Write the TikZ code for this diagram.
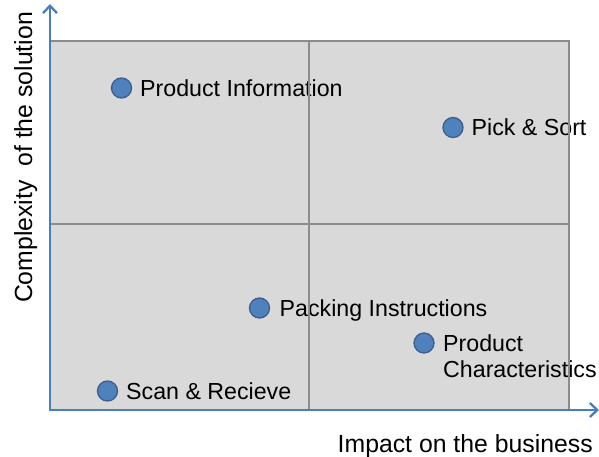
\documentclass[tikz,border=0pt]{standalone}
\usepackage{fontspec}
\setmainfont{Liberation Sans}
\usetikzlibrary{arrows.meta}
\definecolor{axisblue}{HTML}{4A7EBB}
\definecolor{dotfill}{HTML}{4F81BD}
\definecolor{dotedge}{HTML}{3A5F8E}
\definecolor{gridgray}{HTML}{8C8C8C}
\definecolor{quadfill}{HTML}{D9D9D9}
\tikzset{
  dot/.style={circle, fill=dotfill, draw=dotedge, line width=1.3pt, minimum size=20pt, inner sep=0pt},
  lbl/.style={font=\fontsize{23.2}{26}\selectfont, inner sep=0pt, text=black},
  axlbl/.style={font=\fontsize{24.8}{28}\selectfont, inner sep=0pt, text=black},
  gridline/.style={draw=gridgray, line width=2pt},
  axis/.style={draw=axisblue, line width=2.5pt, -{Straight Barb[length=7.5pt,width=14pt,line width=2.3pt]}}
}
\begin{document}
\begin{tikzpicture}[x=1pt,y=-1pt]
\useasboundingbox (0,0) rectangle (599,457);
% quadrant background
\fill[quadfill] (50,41) rectangle (569,410);
% points
\node[dot] (pi) at (121.5,88) {};
\node[lbl, anchor=base west] (pit) at (140,96.5) {Product Information};
\node[dot] (ps) at (453,127.5) {};
\node[lbl, anchor=base west] (pst) at (471.5,136) {Pick \& Sort};
\node[dot] (pk) at (259.5,308) {};
\node[lbl, anchor=base west] (pkt) at (279.5,316.5) {Packing Instructions};
\node[dot] (pc) at (424,343) {};
\node[lbl, anchor=north west, align=left] (pct) at (443,334.5) {Product\\Characteristics};
\node[dot] (sr) at (107.5,391) {};
\node[lbl, anchor=base west] (srt) at (126,399.5) {Scan \& Recieve};
% grid over labels
\draw[gridline] (50,41) rectangle (569,410);
\draw[gridline] (309,41) -- (309,410);
\draw[gridline] (50,224) -- (569,224);
% axes
\coordinate (o) at (50,410);
\coordinate (ytip) at (50,4);
\coordinate (xtip) at (599,410);
\draw[axis] (o) -- (ytip);
\draw[axis] (o) -- (xtip);
% axis labels
\node[axlbl, anchor=base west] (xl) at (337.5,452) {Impact on the business};
\node[axlbl, anchor=base, rotate=90] (yl) at (32,157.5) {Complexity\ \ of the solution};
\end{tikzpicture}
\end{document}
